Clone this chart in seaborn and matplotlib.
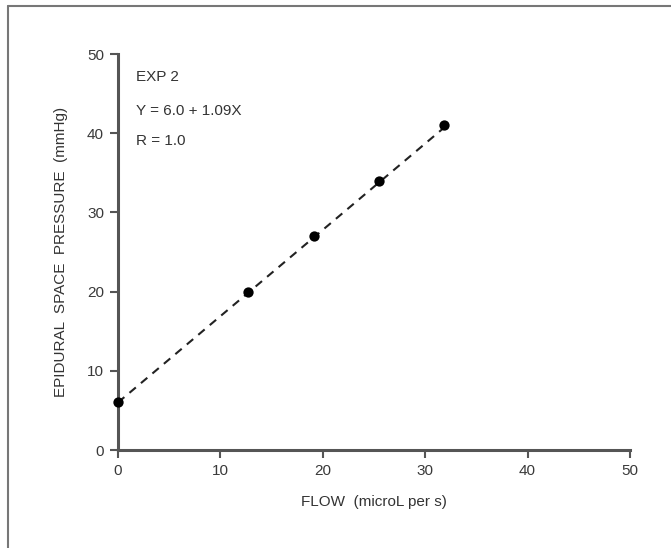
import matplotlib
matplotlib.use("Agg")
import matplotlib.pyplot as plt
from matplotlib.lines import Line2D
import seaborn as sns
import pandas as pd

# Data
flow = [0.0, 12.7, 19.1, 25.5, 31.8]
pressure = [6.0, 20.0, 27.0, 34.0, 41.0]
fit_x = [0.0, 32.3]
fit_y = [6.0, 41.2]
ticks = [0, 10, 20, 30, 40, 50]
annotations = ["EXP 2", "Y = 6.0 + 1.09X", "R = 1.0"]
ann_y = [47.1, 42.8, 39.0]

sns.set_style("ticks")
plt.rcParams['font.family'] = ['Liberation Sans', 'DejaVu Sans']

fig = plt.figure(figsize=(6.71, 5.48), dpi=100)
ax = fig.add_axes([118/671, 1-450/548, (630-118)/671, (450-54)/548])

df = pd.DataFrame({"x": flow, "y": pressure})
fit = pd.DataFrame({"x": fit_x, "y": fit_y})

sns.lineplot(data=fit, x="x", y="y", ax=ax, color="#222222", linewidth=1.5,
             linestyle=(0, (4, 3.2)), zorder=2)
sns.scatterplot(data=df, x="x", y="y", ax=ax, color="black", s=55,
                edgecolor="black", linewidth=0, zorder=3, clip_on=False)

ax.set_xlim(0, 50)
ax.set_ylim(0, 50)
ax.set_xticks(ticks)
ax.set_yticks(ticks)
sns.despine(ax=ax)
for s in ["left", "bottom"]:
    ax.spines[s].set_linewidth(2.2)
    ax.spines[s].set_color("#555555")
ax.tick_params(axis="both", length=6, width=1.5, color="#555555",
               labelsize=11, labelcolor="#3a3a3a", pad=4)

ax.set_xlabel("FLOW  (microL per s)", fontsize=11, color="#333333", labelpad=12)
ax.set_ylabel("EPIDURAL  SPACE  PRESSURE  (mmHg)", fontsize=11, color="#333333",
              labelpad=14)

for txt, yy in zip(annotations, ann_y):
    ax.text(1.8, yy, txt, fontsize=11, color="#333333", va="center", ha="left")

# partial frame (left and top lines)
fig.add_artist(Line2D([7.5/671, 7.5/671], [0, 1-5.5/548], transform=fig.transFigure,
                      color="#777777", linewidth=1.5))
fig.add_artist(Line2D([7.5/671, 1], [1-5.5/548, 1-5.5/548], transform=fig.transFigure,
                      color="#777777", linewidth=1.5))

fig.savefig("out.png", dpi=100)
